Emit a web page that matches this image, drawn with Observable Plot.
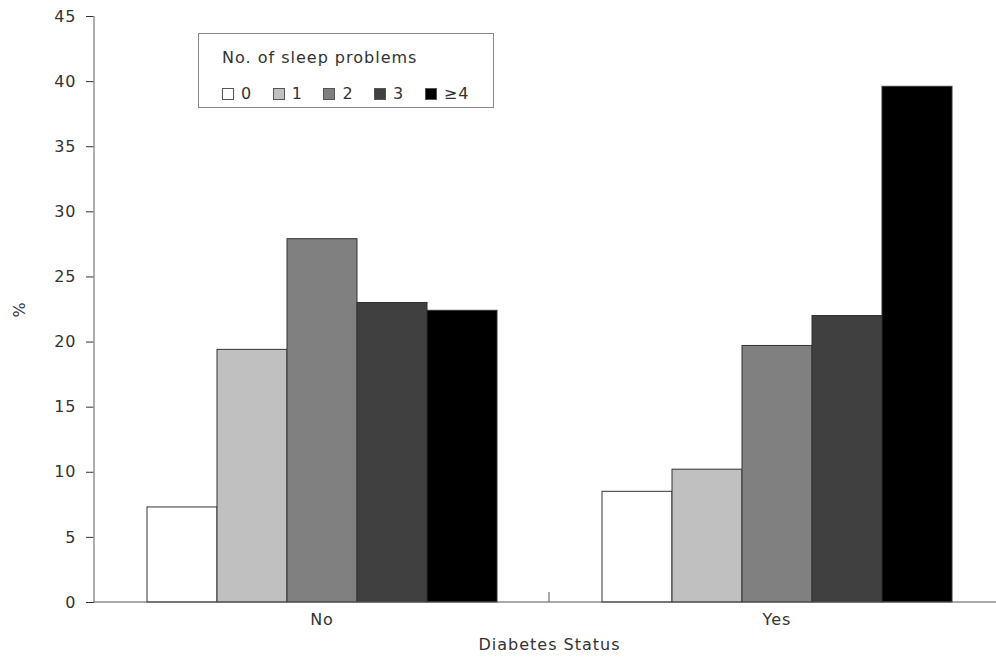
<!DOCTYPE html>
<html>
<head>
<meta charset="utf-8">
<script src="https://cdn.jsdelivr.net/npm/d3@7"></script>
<script src="https://cdn.jsdelivr.net/npm/@observablehq/plot@0.6"></script>
<style>
  html, body { margin: 0; padding: 0; background: #fff; }
  #wrap { position: relative; width: 996px; height: 658px; font-family: "DejaVu Sans", Verdana, sans-serif; }
  #legend { position: absolute; left: 198px; top: 33px; width: 294px; height: 73px; border: 1px solid #8a8a8a; background: #fff; color: #333; font-size: 16px; letter-spacing: 1px; box-sizing: content-box; line-height: 18px; }
  #legend .title { position: absolute; left: 23px; top: 15px; }
  #legend .row { position: absolute; left: 23px; top: 51px; display: flex; align-items: center; }
  #legend .item { display: flex; align-items: center; width: 50.7px; }
  #legend .sw { width: 12px; height: 12px; border: 1px solid #555; margin-right: 7px; box-sizing: border-box; }
  svg g[aria-label="y-axis tick"] { stroke: #999; }
</style>
</head>
<body>
<div id="wrap"></div>
<script>
const statuses = ["No", "Yes"];
const problems = ["0", "1", "2", "3", "≥4"];
const valuesNo = [7.3, 19.4, 27.9, 23.0, 22.4];
const valuesYes = [8.5, 10.2, 19.7, 22.0, 39.6];
const yTicks = [0, 5, 10, 15, 20, 25, 30, 35, 40, 45];
const colors = ["#ffffff", "#c0c0c0", "#808080", "#404040", "#000000"];
const legendTitle = "No. of sleep problems";

const seriesByStatus = [valuesNo, valuesYes];
const data = statuses.flatMap((s, i) => problems.map((p, j) => ({status: s, problem: p, value: seriesByStatus[i][j]})));

const W = 996, H = 658, ML = 94, MT = 16, MB = 56;

const plot = Plot.plot({
  width: W, height: H,
  marginTop: MT, marginBottom: MB, marginLeft: ML, marginRight: 0,
  style: {fontFamily: "'DejaVu Sans', Verdana, sans-serif", fontSize: "16px", letterSpacing: "1px", color: "#333", background: "#fff", overflow: "visible"},
  fx: {domain: statuses, range: [ML, W + 8], padding: 0,
       label: "Diabetes Status", labelAnchor: "center", labelOffset: 47, labelArrow: "none", tickSize: 0, tickPadding: 11},
  x: {domain: problems, paddingInner: 0, paddingOuter: 0.75, axis: null},
  y: {domain: [0, 45], ticks: yTicks, tickSize: 8, tickPadding: 10, label: "%", labelAnchor: "center", labelOffset: 81, labelArrow: "none"},
  color: {domain: problems, range: colors},
  marks: [
    Plot.barY(data, {fx: "status", x: "problem", y: "value", fill: "problem", stroke: "#333", strokeWidth: 1, inset: 0})
  ]
});

// strip any label arrows (older Plot versions)
d3.select(plot).selectAll("text").each(function () {
  const t = this.textContent;
  if (/[↑→←↓]/.test(t)) this.textContent = t.replace(/\s*[↑→←↓]\s*/g, "").trim();
});

// Axis lines and the group-separator tick, positioned from the plot's own scales
const fx = plot.scale("fx"), y = plot.scale("y");
const svg = d3.select(plot);
const y0 = y.apply(0), yTop = y.apply(45);
const sepX = fx.apply(statuses[1]);
const g = svg.append("g");
g.append("line").attr("x1", ML).attr("x2", ML).attr("y1", yTop).attr("y2", y0).attr("stroke", "#9a9a9a").attr("stroke-width", 1.6);
g.append("line").attr("x1", ML).attr("x2", W).attr("y1", y0).attr("y2", y0).attr("stroke", "#555").attr("stroke-width", 1);
g.append("line").attr("x1", sepX).attr("x2", sepX).attr("y1", y0).attr("y2", y0 - 10).attr("stroke", "#555").attr("stroke-width", 1);

const wrap = document.getElementById("wrap");
wrap.appendChild(plot);

// Legend overlay
const legend = document.createElement("div");
legend.id = "legend";
legend.innerHTML = `<div class="title">${legendTitle}</div>` +
  `<div class="row">` + problems.map((p, i) =>
    `<div class="item"><div class="sw" style="background:${colors[i]}"></div><span>${p}</span></div>`).join("") + `</div>`;
wrap.appendChild(legend);
</script>
</body>
</html>
